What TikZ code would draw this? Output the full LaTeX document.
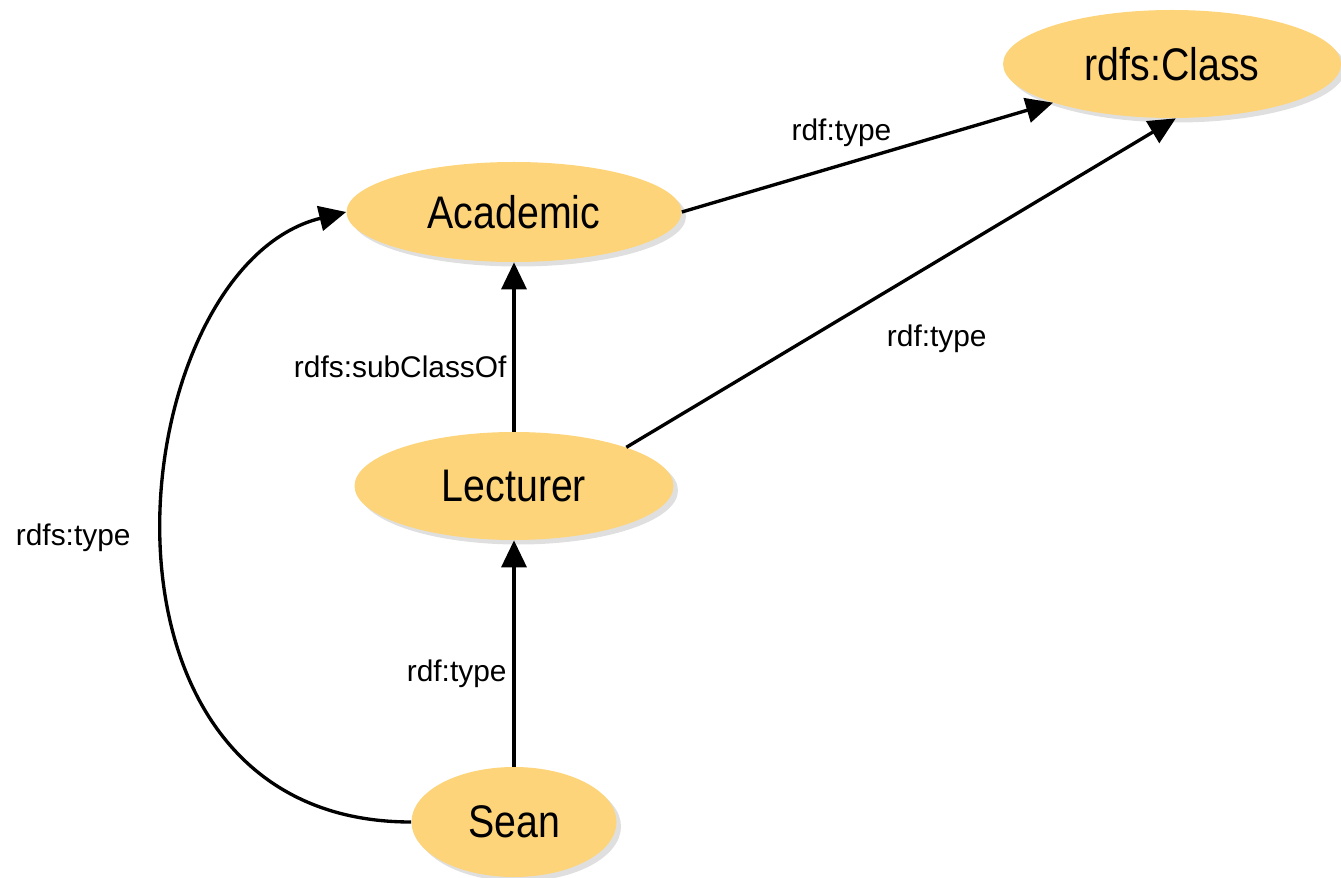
\documentclass[tikz,border=0pt]{standalone}
\usepackage{fontspec}
\setmainfont{Liberation Sans}
\newfontfamily\nodefont[FakeStretch=0.86]{Liberation Sans}
\usepackage{tikz}
\usetikzlibrary{arrows.meta,positioning,shapes.geometric,shadows}
\usepackage{xcolor}
\definecolor{rdfgold}{RGB}{253,212,121}
\tikzset{
  cnode/.style={
    ellipse, fill=rdfgold, inner sep=0pt,
    drop shadow={shadow xshift=0.09cm, shadow yshift=-0.09cm, opacity=0.25},
    font=\nodefont\fontsize{26}{30}\selectfont
  },
  carrow/.style={draw=black, -{Triangle[length=0.54cm, width=0.5cm]}, line width=1.9pt},
  clabel/.style={font=\fontsize{17}{20}\selectfont}
}

\begin{document}
\begin{tikzpicture}
    \useasboundingbox (0,0) rectangle (26.82,17.54);
    % Nodes
    \node[cnode, minimum width=6.76cm, minimum height=2.16cm] (cls)  at (23.44,16.26) {rdfs:Class};
    \node[cnode, minimum width=6.7cm,  minimum height=2.0cm]  (acad) at (10.28,13.30) {Academic};
    \node[cnode, minimum width=6.38cm, minimum height=2.16cm] (lect) at (10.28,7.82)  {Lecturer};
    \node[cnode, minimum width=4.1cm,  minimum height=2.2cm]  (sean) at (10.28,1.10)  {Sean};
    % Arrows
    \draw[carrow] (acad.east) -- node[clabel, pos=0.43, above=0.22cm]{rdf:type} (cls.198);
    \draw[carrow] (lect.19) -- node[clabel, pos=0.565, below=1.12cm]{rdf:type} (cls.-86);
    \draw[carrow] (lect.north) -- node[clabel, pos=0.38, left]{rdfs:subClassOf} (acad.south);
    \draw[carrow] (sean.north) -- node[clabel, pos=0.41, left]{rdf:type} (lect.south);
    % Curved arrow on the left
    \draw[carrow] (sean.west) .. controls +(-7.0,0) and +(-4.5,-1.1) .. node[clabel, pos=0.5, left=0.5cm]{rdfs:type} (acad.west);
\end{tikzpicture}
\end{document}
